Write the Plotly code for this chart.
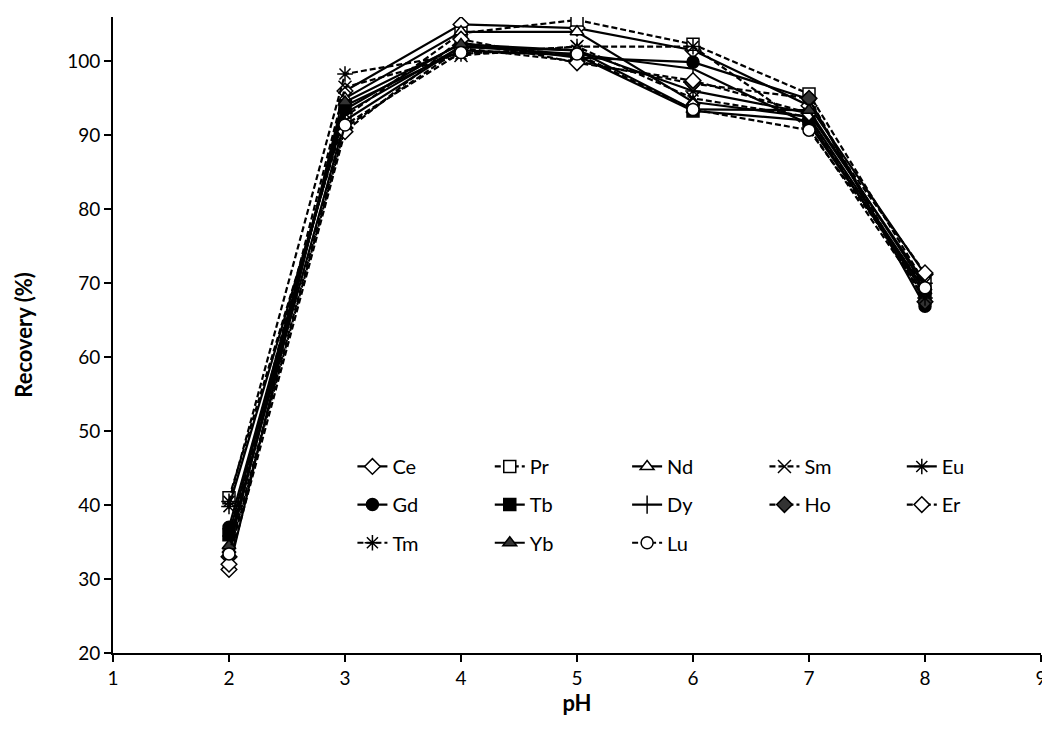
import plotly.graph_objects as go

ph = [2, 3, 4, 5, 6, 7, 8]

Ce = [31.3, 96.0, 105.0, 104.5, 101.5, 94.0, 71.2]
Pr = [41.0, 92.5, 103.8, 105.6, 102.3, 95.6, 70.0]
Nd = [34.0, 95.0, 104.0, 104.0, 94.5, 92.5, 69.0]
Sm = [35.0, 96.5, 100.8, 102.0, 95.0, 92.5, 68.0]
Eu = [39.8, 93.0, 102.0, 101.5, 96.0, 93.0, 70.0]
Gd = [37.0, 93.5, 102.5, 100.5, 99.9, 94.9, 66.9]
Tb = [36.0, 94.0, 101.5, 100.8, 93.3, 92.0, 68.5]
Dy = [35.0, 92.0, 102.0, 101.0, 99.0, 91.5, 69.0]
Ho = [33.0, 91.0, 101.8, 100.0, 97.0, 95.0, 67.5]
Er = [32.0, 90.5, 103.0, 99.8, 97.4, 93.0, 71.4]
Tm = [40.5, 98.3, 101.0, 102.0, 102.0, 91.0, 68.0]
Yb = [34.5, 94.5, 102.3, 101.5, 93.5, 93.4, 69.5]
Lu = [33.4, 91.4, 101.2, 101.0, 93.5, 90.7, 69.4]

series = [
    ("Ce", Ce, "solid", "diamond", "white", "legend"),
    ("Pr", Pr, "dash", "square", "white", "legend"),
    ("Nd", Nd, "solid", "triangle-up", "white", "legend"),
    ("Sm", Sm, "dash", "x-thin-open", "black", "legend"),
    ("Eu", Eu, "solid", "asterisk-open", "black", "legend"),
    ("Gd", Gd, "solid", "circle", "black", "legend2"),
    ("Tb", Tb, "solid", "square", "black", "legend2"),
    ("Dy", Dy, "solid", "line-ns-open", "black", "legend2"),
    ("Ho", Ho, "dash", "diamond", "#333333", "legend2"),
    ("Er", Er, "dash", "diamond", "white", "legend2"),
    ("Tm", Tm, "dash", "asterisk-open", "black", "legend3"),
    ("Yb", Yb, "solid", "triangle-up", "#333333", "legend3"),
    ("Lu", Lu, "dash", "circle", "white", "legend3"),
]

fig = go.Figure()
for name, vals, dash, sym, fill, leg in series:
    size = 12
    if sym in ("x-thin-open", "asterisk-open", "line-ns-open"):
        size = 13
    fig.add_trace(go.Scatter(
        x=ph, y=vals, name=name, mode="lines+markers", legend=leg,
        line=dict(color="black", width=2.2, dash="6px,3px" if dash == "dash" else "solid"),
        marker=dict(symbol=sym, size=size, color=fill,
                    line=dict(color="black", width=1.5)),
    ))

font_family = "Lato, Open Sans, sans-serif"
leg_common = dict(
    orientation="h", x=0.258, xanchor="left", yanchor="top",
    entrywidth=0.148, entrywidthmode="fraction",
    font=dict(size=20), bgcolor="rgba(0,0,0,0)",
)
fig.update_layout(
    width=1050, height=751,
    paper_bgcolor="white", plot_bgcolor="white",
    margin=dict(l=105, r=17, t=9, b=106, autoexpand=False),
    font=dict(family=font_family, size=18, color="black"),
    showlegend=True,
    legend=dict(y=0.324, **leg_common),
    legend2=dict(y=0.264, **leg_common),
    legend3=dict(y=0.204, **leg_common),
    xaxis=dict(
        range=[1, 9], dtick=1, tick0=1, showgrid=False, zeroline=False,
        showline=True, linecolor="black", linewidth=2,
        ticks="outside", ticklen=7, tickwidth=2, tickcolor="black",
        tickfont=dict(size=19),
        title=dict(text="<b>pH</b>", font=dict(size=22), standoff=0),
    ),
    yaxis=dict(
        range=[20, 106], tickvals=[20, 30, 40, 50, 60, 70, 80, 90, 100],
        showgrid=False, zeroline=False,
        showline=True, linecolor="black", linewidth=2,
        ticks="outside", ticklen=7, tickwidth=2, tickcolor="black",
        tickfont=dict(size=19),
        title=dict(text="<b>Recovery (%)</b>", font=dict(size=22), standoff=28),
    ),
)

fig.write_html("out.html")
